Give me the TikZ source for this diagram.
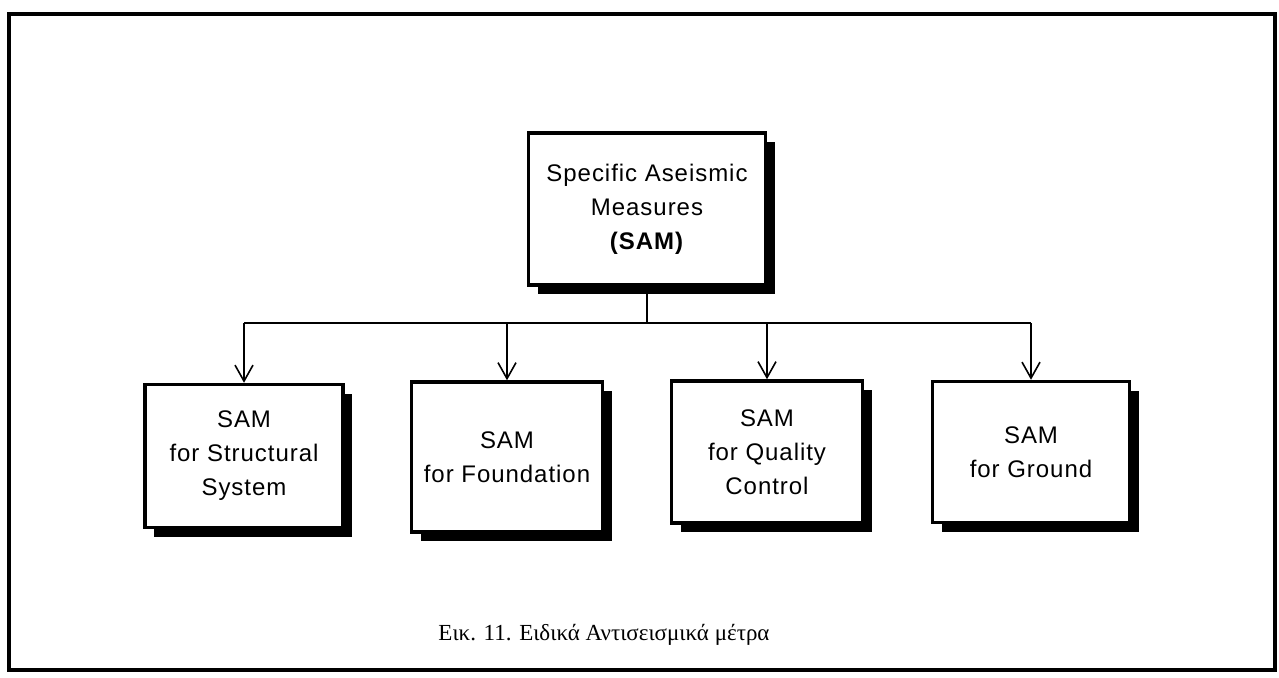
\documentclass[tikz,border=0pt]{standalone}
\usepackage{fontspec}
\setmainfont{Liberation Serif}
\newfontfamily\boxfont{Liberation Sans}[LetterSpace=4]
\usetikzlibrary{arrows.meta,shadows}
\begin{document}
\begin{tikzpicture}[x=1pt,y=-1pt,
  samsbox/.style={draw, line width=3.5pt, fill=white, align=center, inner sep=0pt,
    font=\boxfont\fontsize{24}{34}\selectfont,
    drop shadow={shadow xshift=9pt, shadow yshift=-9pt, fill=black, opacity=1}},
  link/.style={line width=1.6pt},
  droparrow/.style={link, -{Straight Barb[length=16pt,width=18pt,line width=1.6pt]}}]
\useasboundingbox (0,0) rectangle (1279,677);
% outer frame
\draw[line width=4pt] (9,14) rectangle (1275,670);
% root box
\node[samsbox, minimum width=237pt, minimum height=152pt] (sam) at (647,209)
  {Specific Aseismic\\Measures\\\textbf{(SAM)}};
% child boxes
\node[samsbox, minimum width=198pt, minimum height=143pt] (struct) at (244,456)
  {SAM\\for Structural\\System};
\node[samsbox, minimum width=191pt, minimum height=150pt] (found) at (507,457)
  {SAM\\for Foundation};
\node[samsbox, minimum width=191pt, minimum height=142pt] (qual) at (767,452)
  {SAM\\for Quality\\Control};
\node[samsbox, minimum width=197pt, minimum height=141pt] (ground) at (1031,452)
  {SAM\\for Ground};
% distribution bar
\coordinate (bar) at (647,323);
\draw[link] (sam.south) -- (bar);
\draw[link] (struct.north |- bar) -- (ground.north |- bar);
\draw[droparrow] (struct.north |- bar) -- (struct.north);
\draw[droparrow] (found.north |- bar) -- (found.north);
\draw[droparrow] (qual.north |- bar) -- (qual.north);
\draw[droparrow] (ground.north |- bar) -- (ground.north);
% caption
\node[anchor=base, font=\fontsize{23}{27}\selectfont] (cap) at (604,640)
  {Εικ. 11. Ειδικά Αντισεισμικά μέτρα};
\end{tikzpicture}
\end{document}
